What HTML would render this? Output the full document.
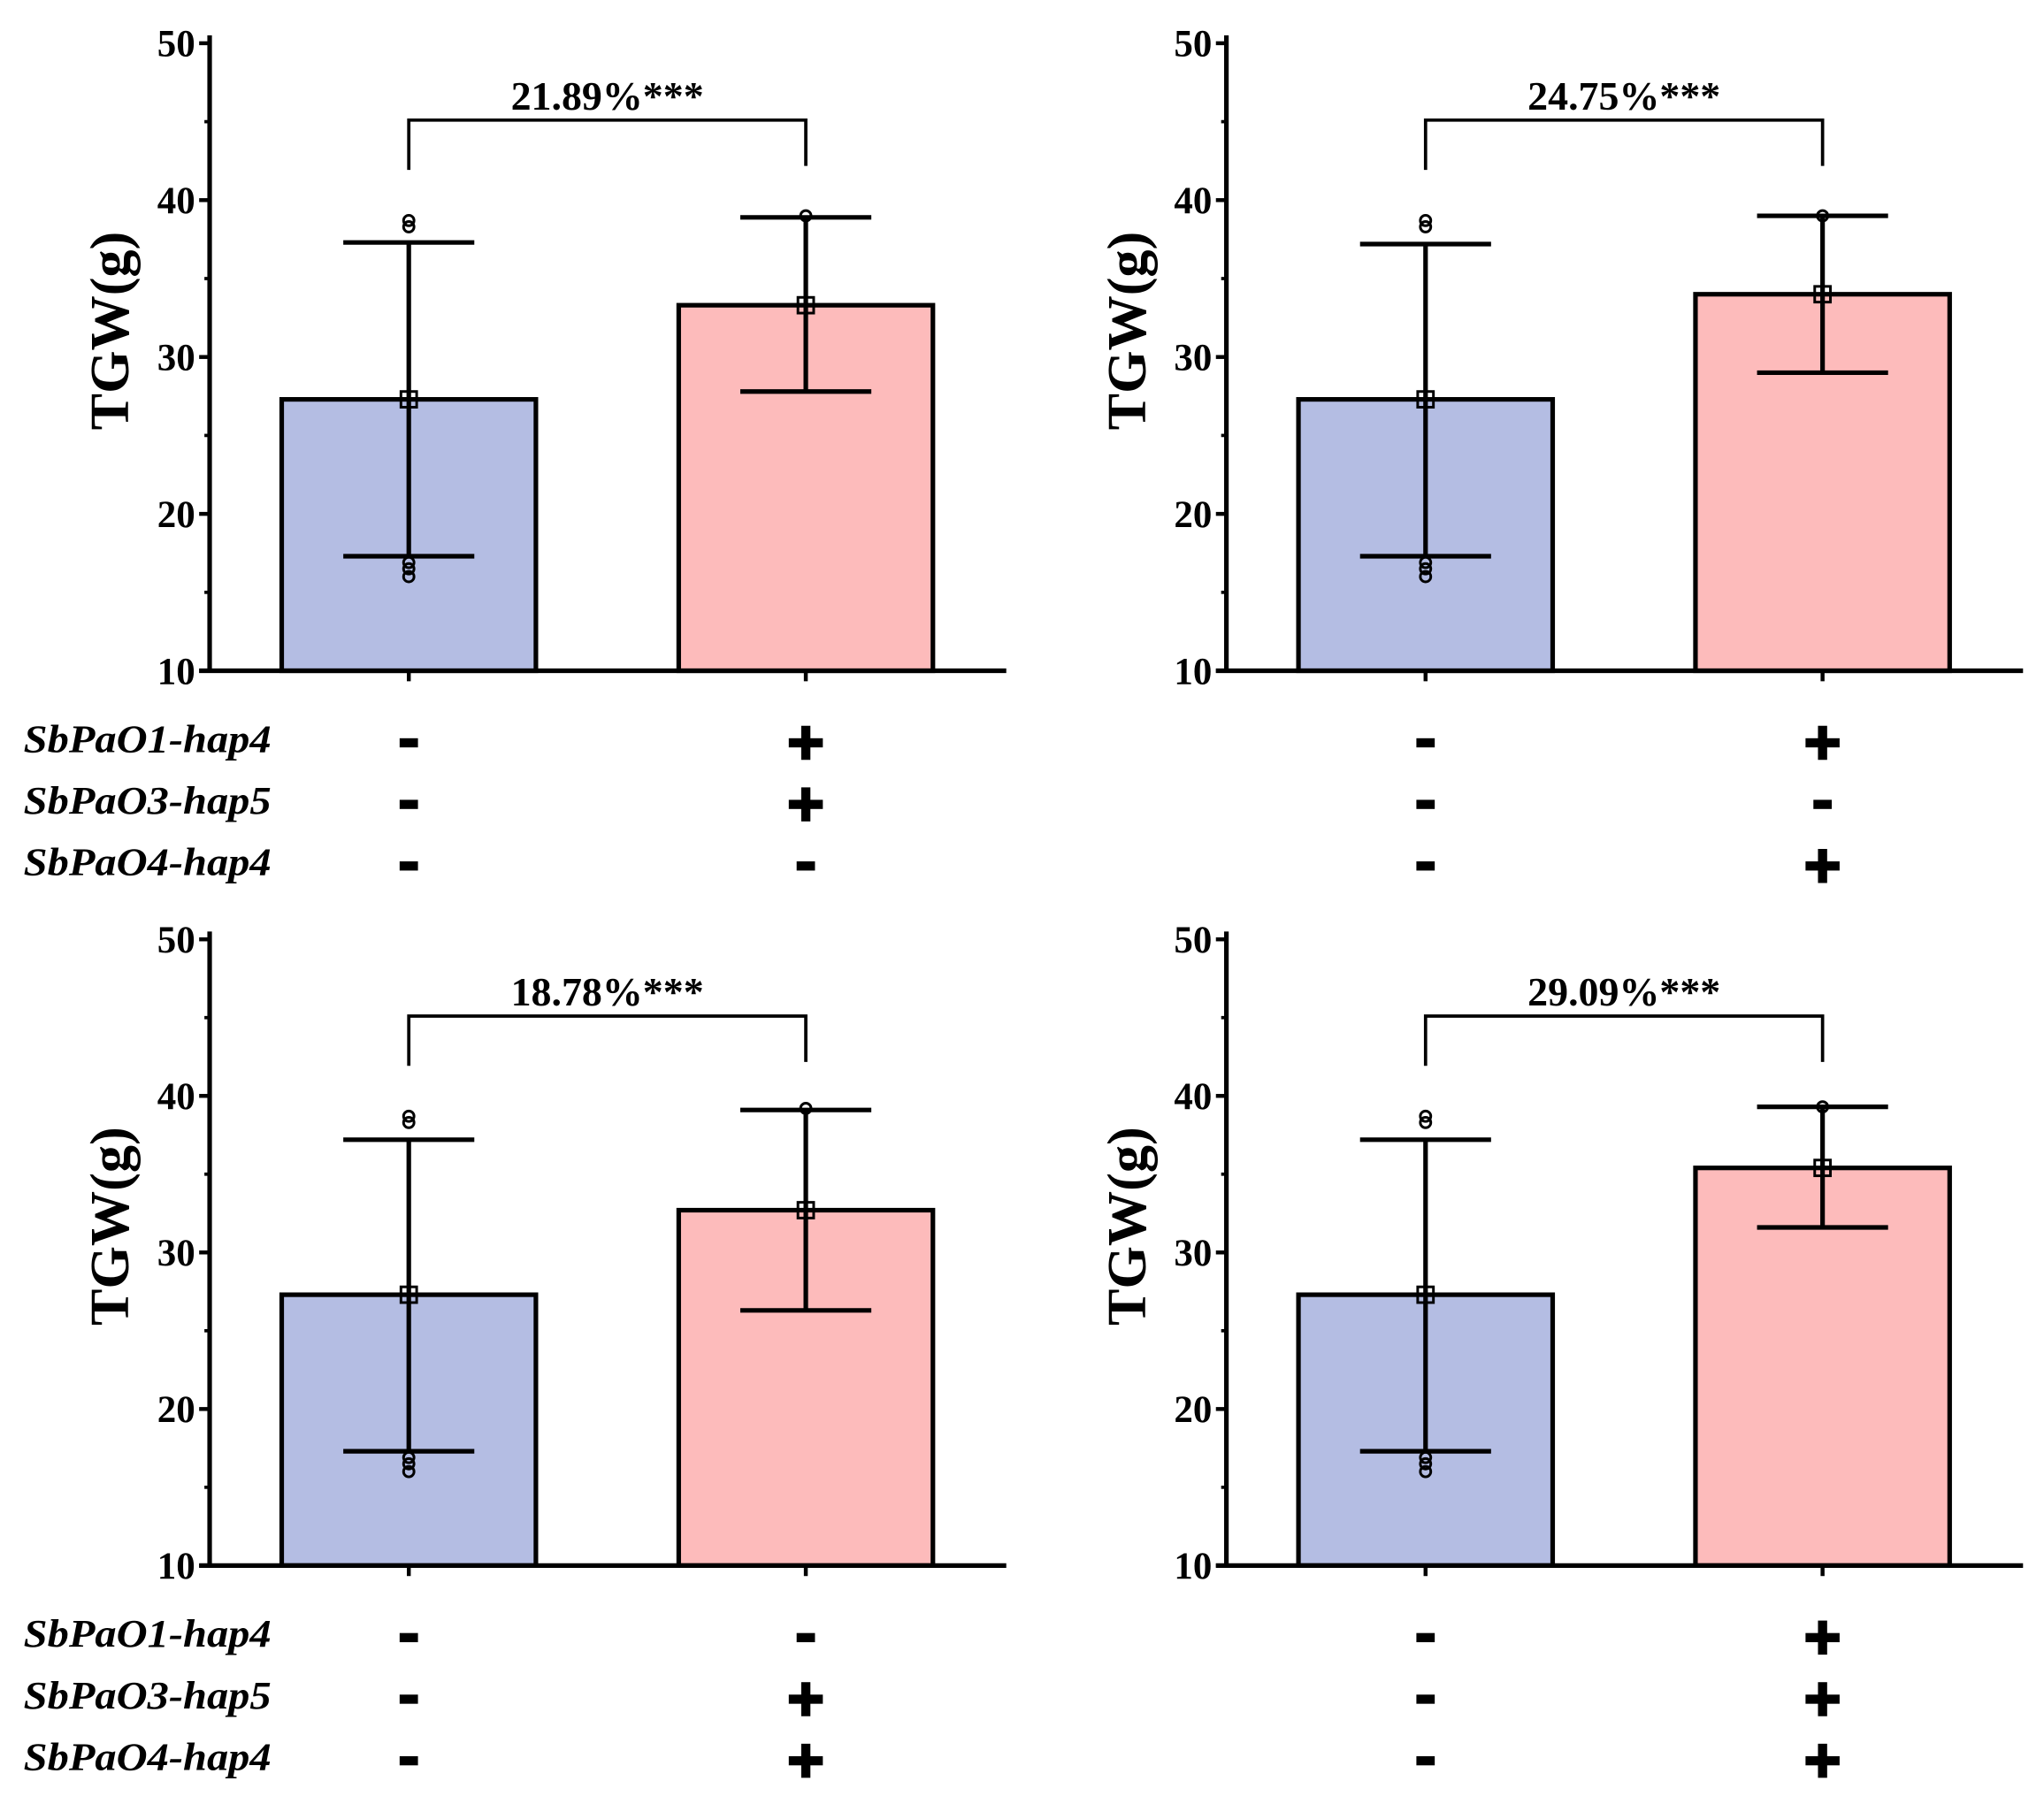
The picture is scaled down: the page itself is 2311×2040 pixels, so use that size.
<!DOCTYPE html>
<html><head><meta charset="utf-8"><style>
html,body{margin:0;padding:0;background:#fff;}
svg{display:block;}
text{font-family:"Liberation Serif",serif;font-weight:bold;fill:#000;}
</style></head><body>
<svg id="chart" width="2311" height="2040" viewBox="0 0 1560 1377" preserveAspectRatio="none" xmlns="http://www.w3.org/2000/svg"></svg>
<script>
// ---- data ----
const panelNames = ['panel-a','panel-b','panel-c','panel-d'];
const meansCtrl = [27.3, 27.3, 27.3, 27.3];
const meansHap = [33.3, 34.0, 32.7, 35.4];
const errLowCtrl = [17.3, 17.3, 17.3, 17.3];
const errHighCtrl = [37.3, 37.2, 37.2, 37.2];
const errLowHap = [27.8, 29.0, 26.3, 31.6];
const errHighHap = [38.9, 39.0, 39.1, 39.3];
const pctLabels = ['21.89%***','24.75%***','18.78%***','29.09%***'];
const yTicks = [10, 20, 30, 40, 50];
const genes = ['SbPaO1-hap4','SbPaO3-hap5','SbPaO4-hap4'];
const signsHap = [['+','+','-'],['+','-','+'],['-','+','+'],['+','+','+']];
const signsCtrl = [['-','-','-'],['-','-','-'],['-','-','-'],['-','-','-']];
const ctrlPoints = [38.3, 38.7, 16.0, 16.5, 16.9];
const hapPointMax = [39.0, 39.0, 39.2, 39.3];

const NS='http://www.w3.org/2000/svg';
const svg=document.getElementById('chart');
function mk(tag, attrs, parent){const e=document.createElementNS(NS,tag);for(const k in attrs)e.setAttribute(k,attrs[k]);(parent||svg).appendChild(e);return e;}

const layout=[{ax:160,y10:512,y50:33},{ax:936,y10:512,y50:33},{ax:160,y10:1195,y50:717},{ax:936,y10:1195,y50:717}];

layout.forEach((L,p)=>{
  const g=mk('g',{});
  
  
  const y=v=>L.y10+(v-10)*(L.y50-L.y10)/40;
  const c1=L.ax+152, c2=L.ax+455;
  const b1=mk('rect',{x:c1-97,y:y(meansCtrl[p]),width:194,height:y(10)-y(meansCtrl[p]),fill:'#b4bde3',stroke:'#000','stroke-width':3.5},g);
  
  
  const b2=mk('rect',{x:c2-97,y:y(meansHap[p]),width:194,height:y(10)-y(meansHap[p]),fill:'#fdbbbb',stroke:'#000','stroke-width':3.5},g);
  
  
  [[c1,errLowCtrl[p],errHighCtrl[p]],[c2,errLowHap[p],errHighHap[p]]].forEach(([c,lo,hi],i)=>{
    const eg=mk('g',{stroke:'#000','stroke-width':3.5},g);
    
    
    mk('line',{x1:c,x2:c,y1:y(lo),y2:y(hi)},eg);
    mk('line',{x1:c-50,x2:c+50,y1:y(lo),y2:y(lo)},eg);
    mk('line',{x1:c-50,x2:c+50,y1:y(hi),y2:y(hi)},eg);
  });
  ctrlPoints.forEach(v=>{const d=mk('circle',{cx:c1,cy:y(v),r:4,fill:'none',stroke:'#000','stroke-width':2},g);
    
    });
  const hp=mk('circle',{cx:c2,cy:y(hapPointMax[p]),r:4,fill:'none',stroke:'#000','stroke-width':2},g);
  
  
  [[c1,meansCtrl[p]],[c2,meansHap[p]]].forEach(([c,v])=>{const m=mk('rect',{x:c-6,y:y(v)-6,width:12,height:12,fill:'none',stroke:'#000','stroke-width':2},g);
    
    });
  const ya=mk('line',{x1:L.ax,x2:L.ax,y1:L.y50-6,y2:L.y10,stroke:'#000','stroke-width':3.5},g);
  
  
  const xa=mk('line',{x1:L.ax-8,x2:L.ax+608,y1:L.y10,y2:L.y10,stroke:'#000','stroke-width':3.5},g);
  
  
  [c1,c2].forEach(c=>mk('line',{x1:c,x2:c,y1:L.y10,y2:L.y10+8,stroke:'#000','stroke-width':3},g));
  yTicks.forEach(t=>{
    mk('line',{x1:L.ax-8,x2:L.ax,y1:y(t),y2:y(t),stroke:'#000','stroke-width':3},g);
    if(t<50) mk('line',{x1:L.ax-4,x2:L.ax,y1:y(t+5),y2:y(t+5),stroke:'#000','stroke-width':2.5},g);
    const tl=mk('text',{x:L.ax-11,y:y(t)+10,'text-anchor':'end','font-size':29},g);
    tl.textContent=t;
    
    
  });
  const yt=mk('text',{x:0,y:0,'text-anchor':'middle','font-size':42,transform:`translate(${L.ax-62},${y(30)-20}) rotate(-90)`},g);
  yt.textContent='TGW(g)';
  
  
  const by=y(45.1);
  const br=mk('path',{d:`M${c1} ${by+38} V${by} H${c2} V${by+35}`,fill:'none',stroke:'#000','stroke-width':2.5},g);
  
  
  const pl=mk('text',{x:(c1+c2)/2,y:by-8,'text-anchor':'middle','font-size':31},g);
  pl.textContent=pctLabels[p];
  
  
  genes.forEach((gn,r)=>{
    const ry=L.y10+51+r*47;
    if(L.ax<500){
      const gl=mk('text',{x:18,y:ry+11,'font-size':30,'font-style':'italic',textLength:189,lengthAdjust:'spacingAndGlyphs'},g);
      gl.textContent=gn;
      
      
    }
    [[c1,signsCtrl[p][r]],[c2,signsHap[p][r]]].forEach(([c,s])=>{
      const sg=mk('g',{fill:'#000'},g);
      
      
      const cy=ry+4;
      if(s==='+'){mk('rect',{x:c-13,y:cy-3.5,width:26,height:7},sg);mk('rect',{x:c-3.5,y:cy-13,width:7,height:26},sg);}
      else mk('rect',{x:c-7,y:cy-3.5,width:14,height:7},sg);
    });
  });
});
</script>
</body></html>
